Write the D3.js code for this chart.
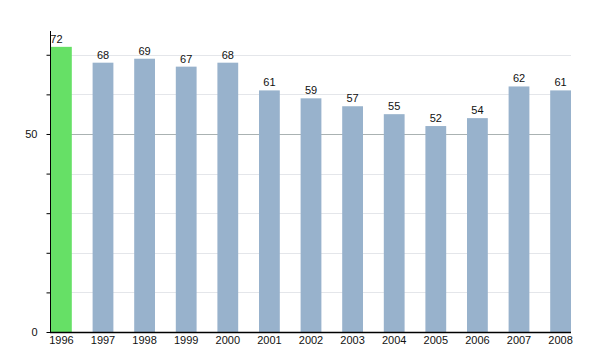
<!DOCTYPE html>
<html><head><meta charset="utf-8">
<script src="https://cdn.jsdelivr.net/npm/d3@7"></script>
<style>body{margin:0;background:#fff}svg{display:block}text{font-family:"Liberation Sans",Arial,sans-serif}</style>
</head><body>
<svg id="c" width="600" height="350"></svg>
<script>
const years = ["1996","1997","1998","1999","2000","2001","2002","2003","2004","2005","2006","2007","2008"];
const values = [72,68,69,67,68,61,59,57,55,52,54,62,61];
const yTickLabels = [0,50];
const yMinorTicks = [0,10,20,30,40,50,60,70];

(function(){
const svg = d3.select("#c");
const mLeft = 50, mRight = 571, mBottom = 332, mTop = 31;
const x = d3.scaleBand().domain(years).range([mLeft+1, mRight]).paddingInner(0.5).paddingOuter(0);
const y = d3.scaleLinear().domain([0,76]).range([mBottom, mTop]);

// gridlines
svg.append("g").selectAll("line").data(yMinorTicks.filter(d=>d>0)).join("line")
  .attr("x1", mLeft).attr("x2", mRight)
  .attr("y1", d=>Math.round(y(d))+0.5).attr("y2", d=>Math.round(y(d))+0.5)
  .attr("stroke", d=>d===50?"#aab2b2":"#e4e6ea").attr("stroke-width",1);

// bars
svg.append("g").selectAll("rect").data(values).join("rect")
  .attr("x",(d,i)=>x(years[i])).attr("width",x.bandwidth())
  .attr("y",d=>y(d)).attr("height",d=>mBottom-y(d))
  .attr("fill",(d,i)=>i===0?"#66e066":"#98b2cc");

// value labels
svg.append("g").selectAll("text").data(values).join("text")
  .attr("x",(d,i)=>x(years[i])+x.bandwidth()/2 - (i===0?5:0)).attr("y",d=>y(d)-4)
  .attr("text-anchor","middle").attr("font-size",11).attr("fill","#111").text(d=>d);

// y axis
const yAxis = d3.axisLeft(y).tickValues(yMinorTicks).tickSize(4)
  .tickFormat(d=>yTickLabels.includes(d)?d:"");
const gy = svg.append("g").attr("transform",`translate(${mLeft+0.5},0)`).call(yAxis);
gy.select(".domain").attr("d",`M0,${mTop}V${mBottom}`).attr("stroke","#000");
gy.selectAll("text").attr("font-size",11).attr("fill","#111").attr("dx",-6).attr("font-family","Liberation Sans, Arial, sans-serif");

// x axis
const xAxis = d3.axisBottom(x).tickSize(0);
const gx = svg.append("g").attr("transform",`translate(0,${mBottom+0.5})`).call(xAxis);
gx.select(".domain").attr("d",`M${mLeft},0H${mRight}`).attr("stroke","#000").attr("stroke-width",1.5);
gx.selectAll("text").attr("font-size",11).attr("fill","#111").attr("y",4).attr("dy","0.71em").attr("font-family","Liberation Sans, Arial, sans-serif");
})();
</script>
</body></html>
